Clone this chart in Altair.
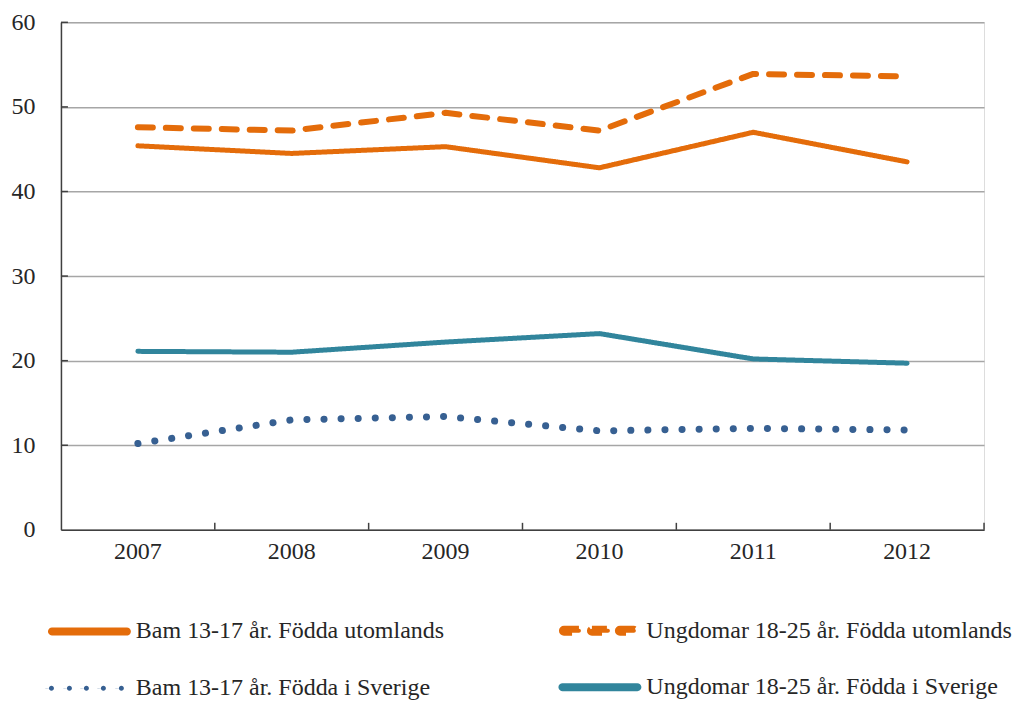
import altair as alt
import pandas as pd

years = ["2007", "2008", "2009", "2010", "2011", "2012"]
series_names = [
    "Bam 13-17 år. Födda utomlands",
    "Bam 13-17 år. Födda i Sverige",
    "Ungdomar 18-25 år. Födda utomlands",
    "Ungdomar 18-25 år. Födda i Sverige",
]
bam_utomlands = [45.4, 44.5, 45.3, 42.8, 47.0, 43.5]
bam_sverige = [10.2, 13.0, 13.4, 11.7, 12.0, 11.8]
ungdomar_utomlands = [47.6, 47.2, 49.3, 47.2, 53.9, 53.6]
ungdomar_sverige = [21.1, 21.0, 22.2, 23.2, 20.2, 19.7]
y_ticks = [0, 10, 20, 30, 40, 50, 60]

colors = ["#E46C0A", "#376092", "#E46C0A", "#31859C"]
dashes = [[1, 0], [0.1, 17], [15, 13], [1, 0]]
widths = [5, 7, 6, 5]


def pill(a, b, h):
    # filled bar from a to b (outer extents, unit coords) with round ends of radius h
    s, e = a + h, b - h
    return (f"M{s:.4f},{-h:.4f}L{e:.4f},{-h:.4f}A{h:.4f},{h:.4f} 0 0,1 {e:.4f},{h:.4f}"
            f"L{s:.4f},{h:.4f}A{h:.4f},{h:.4f} 0 0,1 {s:.4f},{-h:.4f}Z")


def dot(c, r):
    return (f"M{c - r:.4f},0A{r:.4f},{r:.4f} 0 1,0 {c + r:.4f},0"
            f"A{r:.4f},{r:.4f} 0 1,0 {c - r:.4f},0Z")


legend_shapes = [
    pill(-0.975, 0.975, 0.0375),
    "".join(dot(c, 0.0625) for c in [-0.95, -0.5, -0.075, 0.35, 0.8]),
    pill(-0.95, -0.475, 0.05) + pill(-0.25, 0.25, 0.05) + pill(0.45, 0.9, 0.05),
    pill(-0.975, 0.975, 0.0375),
]

rows = []
for name, vals in zip(series_names, [bam_utomlands, bam_sverige, ungdomar_utomlands, ungdomar_sverige]):
    for yr, v in zip(years, vals):
        rows.append({"year": yr, "value": v, "series": name, "line_series": name})
df = pd.DataFrame(rows)
years_df = pd.DataFrame({"year": years})
yticks_df = pd.DataFrame({"tick": y_ticks[1:]})

W, H = 924, 508
FONT = "Liberation Serif"
TEXT = "#262626"

legend = alt.Legend(
    title=None, orient="none", legendX=-15, legendY=566, columns=2,
    columnPadding=105, rowPadding=-6, symbolSize=6400,
    symbolStrokeWidth=0, labelFont=FONT, labelFontSize=24, labelColor=TEXT,
    labelOffset=3, padding=0, labelLimit=0, symbolOpacity=1,
)

x_scale = alt.Scale(type="band", paddingInner=0, paddingOuter=0)
y_scale = alt.Scale(domain=[0, 60], nice=False)
color_scale = alt.Scale(domain=series_names, range=colors)

x_axis = alt.Axis(title=None, ticks=False, labelAngle=0, labelFont=FONT, labelFontSize=24,
                  labelColor=TEXT, labelPadding=10, domainColor="#404040", domainWidth=1.5,
                  grid=False)
y_axis = alt.Axis(title=None, values=y_ticks, ticks=False, labelFont=FONT, labelFontSize=24,
                  labelColor=TEXT, labelPadding=26, domainColor="#404040", domainWidth=1.5,
                  grid=True, gridColor="#A6A6A6", gridWidth=1.5)

lines = alt.Chart(df).mark_line(strokeCap="round", strokeJoin="round").encode(
    x=alt.X("year:O", bandPosition=0.5, scale=x_scale, axis=x_axis),
    y=alt.Y("value:Q", scale=y_scale, axis=y_axis),
    color=alt.Color("series:N", scale=color_scale, legend=legend),
    strokeDash=alt.StrokeDash("line_series:N",
                              scale=alt.Scale(type="ordinal", domain=series_names, range=dashes),
                              legend=None),
    strokeWidth=alt.StrokeWidth("line_series:N",
                                scale=alt.Scale(type="ordinal", domain=series_names, range=widths),
                                legend=None),
)

# legend-only layer: provides per-entry symbol shapes (no marks drawn)
legend_layer = alt.Chart(df).transform_filter("false").mark_point(filled=True, opacity=1).encode(
    x=alt.X("year:O", bandPosition=0.5, scale=x_scale, axis=x_axis),
    y=alt.Y("value:Q", scale=y_scale, axis=y_axis),
    color=alt.Color("series:N", scale=color_scale, legend=legend),
    shape=alt.Shape("series:N", scale=alt.Scale(domain=series_names, range=legend_shapes), legend=legend),
)

xticks = alt.Chart(years_df).mark_rule(color="#404040", strokeWidth=1.5).encode(
    x=alt.X("year:O", bandPosition=1, scale=x_scale, axis=x_axis),
    y=alt.value(H - 7), y2=alt.value(H),
)
yticks = alt.Chart(yticks_df).mark_rule(color="#404040", strokeWidth=1.5).encode(
    y=alt.Y("tick:Q", scale=y_scale, axis=y_axis),
    x=alt.value(0), x2=alt.value(7),
)

chart = alt.layer(lines, legend_layer, xticks, yticks).properties(
    width=W, height=H, padding={"left": 3, "top": 2, "right": 0, "bottom": 2}
).configure_view(strokeWidth=0).configure(font=FONT)

chart.save("out.html", embed_options={"renderer": "svg", "actions": False})
